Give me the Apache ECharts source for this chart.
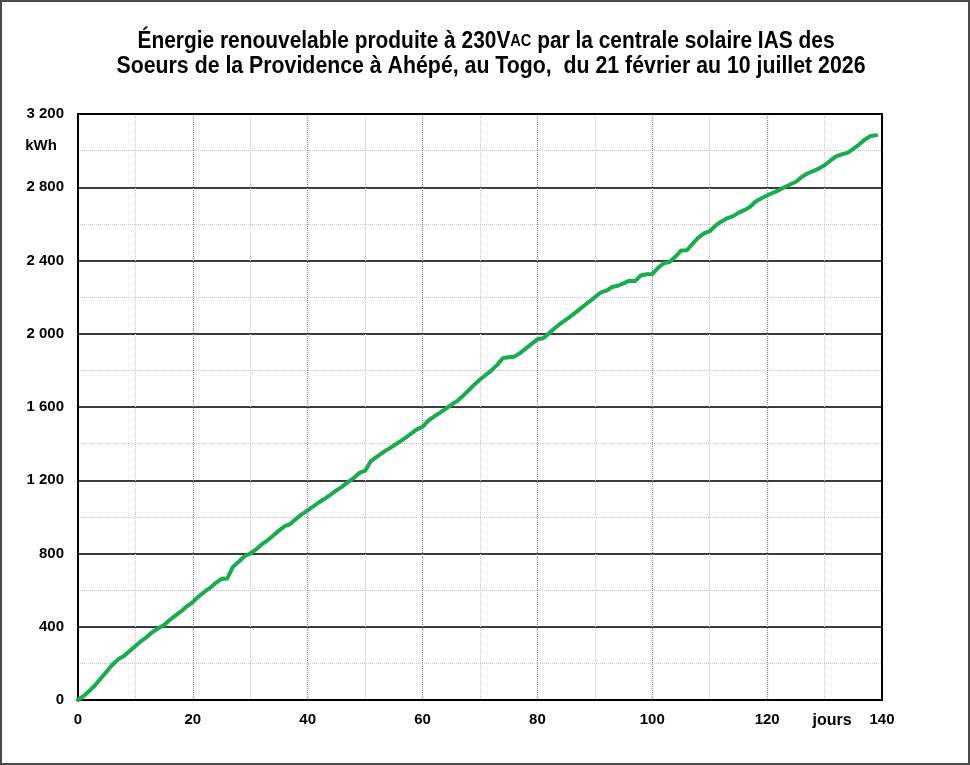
<!DOCTYPE html>
<html>
<head>
<meta charset="utf-8">
<script src="https://cdn.jsdelivr.net/npm/echarts@6/dist/echarts.min.js"></script>
<style>
html,body{margin:0;padding:0;background:#fff;}
#wrap{position:relative;width:970px;height:765px;background:#fff;}
#chart{position:absolute;left:0;top:0;width:970px;height:765px;}
#frame{position:absolute;left:0;top:0;width:970px;height:765px;box-sizing:border-box;border:2px solid #4a4a4a;pointer-events:none;z-index:10;}
</style>
</head>
<body>
<div id="wrap"><div id="chart"></div><div id="frame"></div></div>
<script>
// Cumulative energy (kWh), one value per day from 21 Feb (day 0) to 10 July 2026 (day 139)
const kwh = [
  0, 22, 50, 82, 119, 156, 193, 222, 240, 268,
  295, 322, 345, 372, 392, 410, 438, 462, 485, 513,
  535, 565, 590, 612, 640, 662, 664, 728, 755, 785,
  800, 822, 850, 872, 898, 925, 950, 962, 990, 1015,
  1035, 1058, 1080, 1100, 1122, 1145, 1165, 1190, 1212, 1240,
  1252, 1305, 1328, 1350, 1370, 1390, 1410, 1432, 1455, 1478,
  1492, 1525, 1548, 1568, 1590, 1612, 1632, 1660, 1690, 1722,
  1750, 1775, 1800, 1830, 1868, 1872, 1875, 1895, 1920, 1945,
  1970, 1975, 2002, 2030, 2055, 2077, 2100, 2125, 2150, 2175,
  2199, 2225, 2235, 2255, 2262, 2275, 2290, 2287, 2318, 2325,
  2326, 2360, 2385, 2392, 2420, 2454, 2456, 2490, 2525, 2548,
  2560, 2590, 2612, 2630, 2641, 2660, 2675, 2692, 2722, 2740,
  2755, 2770, 2783, 2800, 2815, 2830, 2855, 2875, 2888, 2902,
  2920, 2945, 2968, 2980, 2988, 3010, 3033, 3060, 3080, 3084
];
const xTickLabels = ['0', '20', '40', '60', '80', '100', '120', '140'];
const yTickLabels = ['0', '400', '800', '1 200', '1 600', '2 000', '2 400', '2 800', '3 200'];
const titleLine1a = 'Énergie renouvelable produite à 230V';
const titleLine1b = 'AC';
const titleLine1c = ' par la centrale solaire IAS des';
const titleLine2 = 'Soeurs de la Providence à Ahépé, au Togo,  du 21 février au 10 juillet 2026';
const yUnit = 'kWh';
const xUnit = 'jours';

const seriesData = kwh.map((v, i) => [i, v]);

const FF = '"Liberation Sans", Arial, sans-serif';
const chart = echarts.init(document.getElementById('chart'), null, {renderer: 'canvas'});

// measure title widths to compress horizontally like the reference
const cv = document.createElement('canvas').getContext('2d');
function w(t, f){ cv.font = f; return cv.measureText(t).width; }
const tf = 'bold 23px ' + FF;
const tfs = 'bold 16px ' + FF;
const w1 = w(titleLine1a, tf) + w(titleLine1b, tfs) + w(titleLine1c, tf);
const w2 = w(titleLine2, tf);
const s1 = 697 / w1, s2 = 749 / w2;

const axisLabelStyle = {fontFamily: FF, fontWeight: 'bold', fontSize: 15, color: '#000'};

const option = {
  animation: false,
  backgroundColor: '#fff',
  grid: {left: 78, top: 114, right: 88, bottom: 65, outerBoundsMode: 'none', containLabel: false,
         show: true, borderColor: '#000', borderWidth: 2, backgroundColor: 'transparent', z: 5},
  xAxis: [
    {type: 'value', min: 0, max: 140, interval: 10, position: 'bottom',
     axisLine: {show: false}, axisTick: {show: false}, axisLabel: {show: false},
     splitLine: {show: true, lineStyle: {color: '#c9c3c9', width: 1, type: [1, 1]}}},
    {type: 'value', min: 0, max: 140, interval: 20, position: 'bottom', offset: 0,
     axisLine: {show: true, onZero: false, lineStyle: {color: '#000', width: 2}}, axisTick: {show: false},
     axisLabel: Object.assign({margin: 12, formatter: v => xTickLabels[v / 20] || ''}, axisLabelStyle),
     splitLine: {show: true, lineStyle: {color: '#948e94', width: 1.2, type: [1, 1]}}}
  ],
  yAxis: [
    {type: 'value', min: 0, max: 3200, interval: 200, position: 'left',
     axisLine: {show: false}, axisTick: {show: false}, axisLabel: {show: false},
     splitLine: {show: true, lineStyle: {color: '#c9c3c9', width: 1, type: [1, 1]}}},
    {type: 'value', min: 0, max: 3200, interval: 400, position: 'left', offset: 0,
     axisLine: {show: true, onZero: false, lineStyle: {color: '#000', width: 2}}, axisTick: {show: false},
     axisLabel: Object.assign({margin: 14, formatter: v => yTickLabels[v / 400] || ''}, axisLabelStyle),
     splitLine: {show: true, lineStyle: {color: '#000', width: 1.5, type: 'solid'}}}
  ],
  series: [{
    type: 'line', xAxisIndex: 1, yAxisIndex: 1, data: seriesData,
    showSymbol: false, symbol: 'none', smooth: false, z: 10,
    lineStyle: {color: '#17ad4c', width: 4, join: 'round', cap: 'round'}
  }],
  graphic: [
    {type: 'text', x: 486, y: 53, scaleX: s1, scaleY: 1, z: 100,
     style: {text: titleLine1a + '{sc|' + titleLine1b + '}' + titleLine1c, font: tf, fill: '#000',
             textAlign: 'center', verticalAlign: 'bottom',
             rich: {sc: {font: tfs, fill: '#000', verticalAlign: 'bottom', padding: [0, 0, 3, 0]}}}},
    {type: 'text', x: 491, y: 78, scaleX: s2, scaleY: 1, z: 100,
     style: {text: titleLine2, font: tf, fill: '#000', textAlign: 'center', verticalAlign: 'bottom'}},
    {type: 'text', x: 41, y: 146, z: 100,
     style: {text: yUnit, font: 'bold 15px ' + FF, fill: '#000', textAlign: 'center', verticalAlign: 'middle'}},
    {type: 'text', x: 832, y: 721, z: 100,
     style: {text: xUnit, font: 'bold 16px ' + FF, fill: '#000', textAlign: 'center', verticalAlign: 'middle'}}
  ]
};
chart.setOption(option);
</script>
</body>
</html>
